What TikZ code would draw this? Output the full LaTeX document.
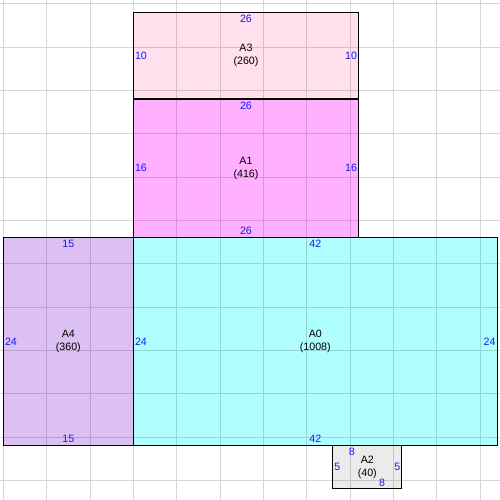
\documentclass[tikz,border=0pt]{standalone}
\usepackage{fontspec}
\setmainfont{Liberation Sans}

\definecolor{sizeblue}{RGB}{25,25,245}
\definecolor{fillA0}{RGB}{176,255,255}
\definecolor{fillA1}{RGB}{255,176,255}
\definecolor{fillA2}{RGB}{235,235,235}
\definecolor{fillA3}{RGB}{255,224,236}
\definecolor{fillA4}{RGB}{220,192,244}

\begin{document}
\begin{tikzpicture}[x = 0.3cm, y = -0.3cm,
	area/.style = {draw = black, line width = 1pt},
	gridline/.style = {line width = 0.75pt},
	size/.style = {text = sizeblue, inner xsep = 1.5pt, inner ysep = 2.5pt, font = \fontsize{10.5}{12.75}\selectfont},
	areaname/.style = {align = center, inner sep = 0pt, font = \fontsize{10.5}{12.75}\selectfont}]
	
		\useasboundingbox (-0.385, -0.423) rectangle (57.31, 57.27);
		
		% grid, then each area with its own tinted grid
		\foreach \col/\xa/\ya/\xb/\yb in {white/-0.385/-0.423/57.31/57.27, fillA3/15/1/41/11, fillA1/15/11/41/27, fillA4/0/27/15/51, fillA0/15/27/57/51, fillA2/38/51/46/56} {
			\begin{scope}
				\clip (\xa, \ya) rectangle (\xb, \yb);
				\fill[\col] (\xa, \ya) rectangle (\xb, \yb);
				\foreach \k in {0, 5, ..., 55} {
					\draw[gridline, \col!84!black] (\k, -0.423) -- (\k, 57.27);
					\draw[gridline, \col!84!black] (-0.385, \k) -- (57.31, \k);
				}
			\end{scope}
		}
		
		% outlines, shared edges once
		\draw[area] (0, 27) rectangle (57, 51);
		\draw[area] (15, 27) -- (15, 51);
		\draw[area] (15, 27) -- (15, 1) -- (41, 1) -- (41, 27);
		\draw[area] (15, 11) -- (41, 11);
		\draw[area] (38, 51) -- (38, 56) -- (46, 56) -- (46, 51);
		
		% A3
		\node[areaname] (a3name) at (28, 6) {A3\\(260)};
		\node[size, below] (a3top) at (28, 1) {26};
		\node[size, right] (a3left) at (15, 6) {10};
		\node[size, left] (a3right) at (41, 6) {10};
		
		% A1
		\node[areaname] (a1name) at (28, 19) {A1\\(416)};
		\node[size, below] (a1top) at (28, 11) {26};
		\node[size, above] (a1bottom) at (28, 27) {26};
		\node[size, right] (a1left) at (15, 19) {16};
		\node[size, left] (a1right) at (41, 19) {16};
		
		% A4
		\node[areaname] (a4name) at (7.5, 39) {A4\\(360)};
		\node[size, below] (a4top) at (7.5, 27) {15};
		\node[size, above] (a4bottom) at (7.5, 51) {15};
		\node[size, right] (a4left) at (0, 39) {24};
		
		% A0
		\node[areaname] (a0name) at (36, 39) {A0\\(1008)};
		\node[size, below] (a0top) at (36, 27) {42};
		\node[size, above] (a0bottom) at (36, 51) {42};
		\node[size, right] (a0left) at (15, 39) {24};
		\node[size, left] (a0right) at (57, 39) {24};
		
		% A2
		\node[areaname] (a2name) at (42, 53.5) {A2\\(40)};
		\node[size, below] (a2top) at (40.2, 51) {8};
		\node[size, above] (a2bottom) at (43.7, 56) {8};
		\node[size, right] (a2left) at (38, 53.5) {5};
		\node[size, left] (a2right) at (46, 53.5) {5};
		
	\end{tikzpicture}
\end{document}
